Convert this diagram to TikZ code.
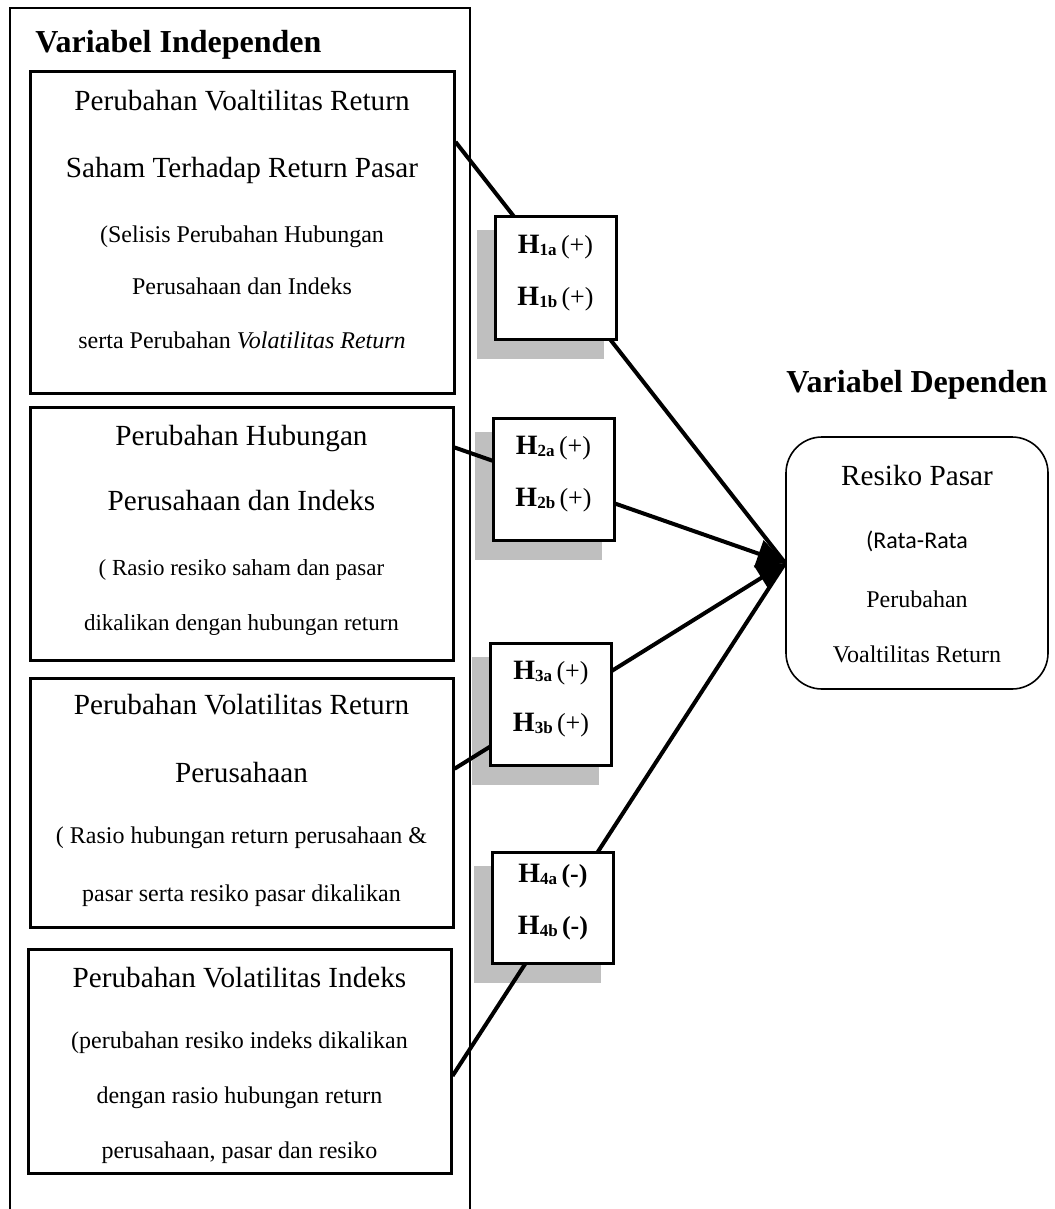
\documentclass[tikz,border=0pt]{standalone}
\usepackage{fontspec}
\setmainfont{Liberation Serif}
\newfontfamily\carlito{Carlito}
\usetikzlibrary{positioning,arrows.meta}
\definecolor{shadegray}{RGB}{191,191,191}
\pgfdeclarelayer{shade}
\pgfdeclarelayer{wire}
\pgfsetlayers{shade,wire,main}
\newcommand{\bigtxt}{\fontsize{14.6}{26}\selectfont}
\newcommand{\hyp}[2]{{\fontsize{14}{26}\selectfont\bfseries H}\raisebox{-1pt}{\fontsize{8.5}{9}\selectfont\bfseries #1}\,#2}

\begin{document}
\begin{tikzpicture}[x=0.5pt,y=-0.5pt,
	varbox/.style={draw,line width=1.5pt,inner sep=0pt},
	vartext/.style={inner sep=0pt,align=flush center,text width=#1,font=\fontsize{12}{26}\selectfont},
	hypbox/.style={draw,fill=white,line width=1.5pt,minimum width=60.5pt,minimum height=61pt,align=flush center,text depth=7.8pt,font=\fontsize{13}{26}\selectfont},
	head/.style={font=\fontsize{16}{20}\selectfont\bfseries,inner sep=0pt},
	wire/.style={line width=2pt},
	>={Triangle[length=14pt,width=14pt]}]
	\useasboundingbox (0,0) rectangle (1054,1209);

	% kelompok variabel independen
	\draw[line width=1pt] (10,1209) |- (470,8) -- (470,1209);
	\node[head,anchor=base west] (hind) at (35,53) {Variabel Independen};

	\node[varbox,minimum width=212pt,minimum height=160.5pt] (b1) at (242,232.5) {};
	\node[vartext=205pt,below=9.5pt of b1.north] (t1) {{\bigtxt Perubahan Voaltilitas Return}\\[7.5pt]
		{\bigtxt Saham Terhadap Return Pasar}\\[6.5pt]
		(Selisis Perubahan Hubungan\\
		Perusahaan dan Indeks\\[1pt]
		serta Perubahan \textit{Volatilitas Return}};

	\node[varbox,minimum width=211.5pt,minimum height=126.5pt] (b2) at (241.5,533.5) {};
	\node[vartext=205pt,font=\fontsize{11.5}{26}\selectfont,below=9.5pt of b2.north] (t2) {{\bigtxt Perubahan Hubungan}\\[6.5pt]
		{\bigtxt Perusahaan dan Indeks}\\[6.5pt]
		( Rasio resiko saham dan pasar\\[1.5pt]
		dikalikan dengan hubungan return};

	\node[varbox,minimum width=211.5pt,minimum height=124.5pt] (b3) at (241.5,802.5) {};
	\node[vartext=205pt,below=8.5pt of b3.north] (t3) {{\bigtxt Perubahan Volatilitas Return}\\[8pt]
		{\bigtxt Perusahaan}\\[4.5pt]
		( Rasio hubungan return perusahaan \&\\[3pt]
		pasar serta resiko pasar dikalikan};

	\node[varbox,minimum width=211.5pt,minimum height=112pt] (b4) at (239.5,1061) {};
	\node[vartext=205pt,below=9.5pt of b4.north] (t4) {{\bigtxt Perubahan Volatilitas Indeks}\\[4.5pt]
		(perubahan resiko indeks dikalikan\\[1.5pt]
		dengan rasio hubungan return\\[1.5pt]
		perusahaan, pasar dan resiko};

	% variabel dependen
	\node[draw,line width=0.8pt,rounded corners=18pt,minimum width=131pt,minimum height=126pt] (dep) at (917,563) {};
	\node[vartext=125pt,below=14.5pt of dep.north] (tdep) {{\bigtxt Resiko Pasar}\\[5.5pt]
		{\carlito(Rata-Rata}\\[3.5pt]
		Perubahan\\[1.5pt]
		Voaltilitas Return};
	\node[head,anchor=base] (hdep) at (917,392) {Variabel Dependen};

	% hipotesis
	\node[hypbox] (h1) at (555.5,278) {\hyp{1a}{(+)}\\\hyp{1b}{(+)}};
	\node[hypbox] (h2) at (553.5,479) {\hyp{2a}{(+)}\\\hyp{2b}{(+)}};
	\node[hypbox] (h3) at (551,704) {\hyp{3a}{(+)}\\\hyp{3b}{(+)}};
	\node[hypbox,minimum height=55.5pt] (h4) at (553,907.5) {\hyp{4a}{\textbf{(-)}}\\\hyp{4b}{\textbf{(-)}}};

	\begin{pgfonlayer}{shade}
	\foreach \h in {h1,h2,h3,h4}
		\fill[shadegray] ([shift={(-17,15)}]\h.north west) rectangle ([shift={(-14,18)}]\h.south east);
	\end{pgfonlayer}

	\begin{pgfonlayer}{wire}
	\draw[wire] (b1.23) -- (dep.west);
	\draw[wire,->] (b2.22) -- (dep.west);
	\draw[wire,->] (b3.9) -- (dep.west);
	\draw[wire] (b4.-4) -- (dep.west);
	\end{pgfonlayer}
\end{tikzpicture}
\end{document}
